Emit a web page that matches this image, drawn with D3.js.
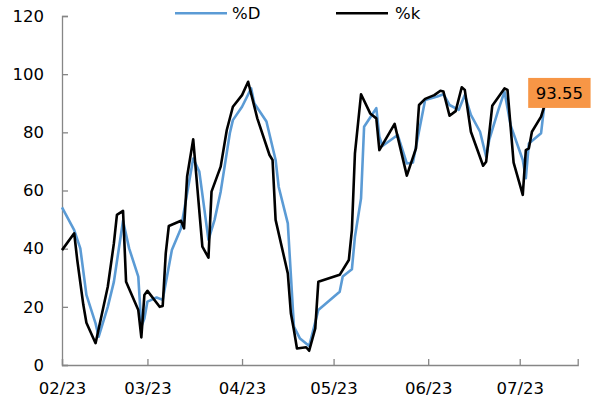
<!DOCTYPE html>
<html><head><meta charset="utf-8">
<script src="https://cdn.jsdelivr.net/npm/d3@7"></script>
<style>body{margin:0;background:#fff}svg{display:block;font-family:"DejaVu Sans",Verdana,sans-serif}</style>
</head><body><div id="chart"></div>
<script>
const kDates = ["2023-02-01","2023-02-05","2023-02-06","2023-02-08","2023-02-09","2023-02-12","2023-02-16","2023-02-18","2023-02-19","2023-02-21","2023-02-22","2023-02-26","2023-02-27","2023-02-28","2023-03-01","2023-03-05","2023-03-06","2023-03-07","2023-03-08","2023-03-12","2023-03-13","2023-03-14","2023-03-16","2023-03-19","2023-03-21","2023-03-22","2023-03-25","2023-03-27","2023-03-29","2023-04-01","2023-04-03","2023-04-06","2023-04-10","2023-04-11","2023-04-12","2023-04-16","2023-04-17","2023-04-18","2023-04-19","2023-04-22","2023-04-23","2023-04-25","2023-04-26","2023-05-03","2023-05-06","2023-05-07","2023-05-08","2023-05-10","2023-05-13","2023-05-15","2023-05-16","2023-05-21","2023-05-25","2023-05-28","2023-05-29","2023-05-31","2023-06-03","2023-06-05","2023-06-06","2023-06-08","2023-06-10","2023-06-12","2023-06-13","2023-06-15","2023-06-19","2023-06-20","2023-06-22","2023-06-26","2023-06-27","2023-06-29","2023-07-02","2023-07-03","2023-07-04","2023-07-05","2023-07-08","2023-07-09","2023-07-14"];
const kValues = [39.5,45.3,36.1,20.6,14.5,7.5,26.9,41.8,51.6,53.0,28.6,18.9,9.5,24.1,25.5,20.0,20.3,38.4,47.8,49.6,47.0,64.8,77.6,40.7,36.9,59.6,68.2,80.8,88.8,92.8,97.4,84.8,72.2,70.5,49.9,31.5,17.8,12.0,5.7,6.1,4.9,12.6,28.6,31.0,36.1,46.4,72.8,93.1,86.5,84.8,73.9,82.9,65.1,74.5,89.4,91.5,92.8,94.3,94.0,85.7,87.3,95.5,94.6,80.2,68.5,69.9,89.1,95.1,94.6,69.6,58.5,73.9,74.5,80.2,85.4,88.8,93.55];
const dDates = ["2023-02-01","2023-02-05","2023-02-07","2023-02-09","2023-02-12","2023-02-13","2023-02-16","2023-02-18","2023-02-21","2023-02-23","2023-02-26","2023-02-27","2023-02-28","2023-03-01","2023-03-04","2023-03-06","2023-03-09","2023-03-12","2023-03-16","2023-03-18","2023-03-21","2023-03-23","2023-03-25","2023-03-28","2023-03-29","2023-04-01","2023-04-04","2023-04-05","2023-04-09","2023-04-12","2023-04-13","2023-04-16","2023-04-18","2023-04-20","2023-04-23","2023-04-26","2023-05-03","2023-05-04","2023-05-07","2023-05-08","2023-05-10","2023-05-11","2023-05-15","2023-05-16","2023-05-17","2023-05-22","2023-05-25","2023-05-27","2023-05-31","2023-06-04","2023-06-06","2023-06-08","2023-06-11","2023-06-13","2023-06-15","2023-06-18","2023-06-20","2023-06-21","2023-06-24","2023-06-26","2023-06-28","2023-07-02","2023-07-03","2023-07-04","2023-07-08","2023-07-09","2023-07-14"];
const dValues = [54.2,46.4,40.1,24.1,14.3,9.7,20.0,28.6,49.6,40.1,30.4,13.2,16.0,21.8,23.2,22.4,39.5,47.0,71.0,66.5,43.0,49.9,59.6,79.7,84.2,88.8,95.1,90.0,83.7,70.5,61.3,48.7,13.2,9.1,6.5,18.9,25.2,30.4,32.9,44.1,57.3,81.9,88.3,78.5,75.3,79.1,69.3,69.6,91.1,92.3,93.1,89.4,87.7,92.8,86.0,80.2,71.6,77.4,87.7,94.0,82.5,70.5,64.2,76.2,79.7,88.8,92.0];
const yTicks = [0,20,40,60,80,100,120];
const seriesNames = ["%D","%k"];
const lastLabel = "93.55";

const W=592,H=401;
const parse=d3.utcParse("%Y-%m-%d");
const svg=d3.select("#chart").append("svg").attr("width",W).attr("height",H);
const x=d3.scaleUtc().domain([parse("2023-02-01"),parse("2023-07-20")]).range([62,577.7]);
const y=d3.scaleLinear().domain([0,120]).range([365,16]);
const axisColor="#868686";

const yAxis=svg.append("g").attr("transform","translate(62,0)")
  .call(d3.axisRight(y).tickValues(yTicks).tickSize(6).tickFormat(d3.format("d")));
yAxis.select(".domain").attr("stroke",axisColor).attr("stroke-width",1.3);
yAxis.selectAll(".tick line").attr("stroke",axisColor).attr("stroke-width",1.3);
yAxis.selectAll(".tick text").attr("x",-18).attr("text-anchor","end").attr("font-size",16.5).attr("fill","#000").attr("font-family","DejaVu Sans");

const xAxis=svg.append("g").attr("transform","translate(0,365)")
  .call(d3.axisTop(x).ticks(d3.utcMonth.every(1)).tickSize(6).tickFormat(d3.utcFormat("%m/%y")));
xAxis.select(".domain").attr("stroke",axisColor).attr("stroke-width",1.3);
xAxis.selectAll(".tick line").attr("stroke",axisColor).attr("stroke-width",1.3);
xAxis.selectAll(".tick text").attr("y",23.5).attr("dy","0.35em").attr("font-size",16.5).attr("fill","#000").attr("font-family","DejaVu Sans");

const line=d3.line().x(d=>x(d[0])).y(d=>y(d[1]));
const dData=dDates.map((d,i)=>[parse(d),dValues[i]]);
const kData=kDates.map((d,i)=>[parse(d),kValues[i]]);
svg.append("path").datum(dData).attr("d",line).attr("fill","none").attr("stroke","#5B9BD5").attr("stroke-width",2.6).attr("stroke-linejoin","round");
svg.append("path").datum(kData).attr("d",line).attr("fill","none").attr("stroke","#000").attr("stroke-width",2.6).attr("stroke-linejoin","round");

// legend
const leg=[{name:seriesNames[0],c:"#5B9BD5",x1:175,x2:227,tx:232},{name:seriesNames[1],c:"#000",x1:336,x2:388,tx:395}];
leg.forEach(l=>{
  svg.append("line").attr("x1",l.x1).attr("x2",l.x2).attr("y1",13.3).attr("y2",13.3).attr("stroke",l.c).attr("stroke-width",2.6);
  svg.append("text").attr("x",l.tx).attr("y",13.3).attr("dy","0.35em").attr("font-size",16.5).text(l.name);
});

// data label
const last=kData[kData.length-1];
const lx=x(last[0]), ly=y(+lastLabel);
const bw=62.4,bh=30;
svg.append("rect").attr("x",lx-bw/2).attr("y",ly-bh/2).attr("width",bw).attr("height",bh).attr("fill","#F79646");
svg.append("text").attr("x",lx).attr("y",ly).attr("dy","0.36em").attr("text-anchor","middle").attr("font-size",16.5).text(lastLabel);
</script></body></html>
